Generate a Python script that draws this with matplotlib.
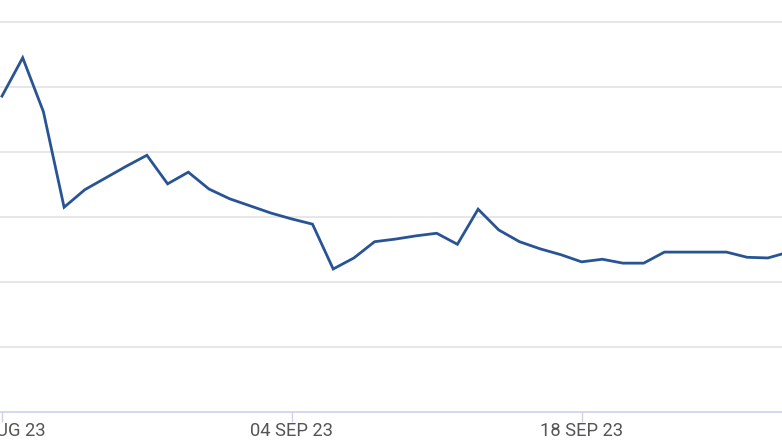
import matplotlib
matplotlib.use("Agg")
import matplotlib.pyplot as plt
import matplotlib.dates as mdates
import numpy as np
import pandas as pd

# daily values, 21 Aug 2023 .. 28 Sep 2023 (one grid step = 1 unit)
dates = pd.date_range("2023-08-21", "2023-09-28", freq="D")
values = [4.86, 5.45, 4.62, 3.15, 3.42, 3.60, 3.78, 3.95, 3.51, 3.69,
          3.43, 3.28, 3.17, 3.06, 2.97, 2.89, 2.20, 2.37, 2.62, 2.66,
          2.71, 2.75, 2.58, 3.12, 2.80, 2.62, 2.51, 2.42, 2.31, 2.35,
          2.29, 2.29, 2.46, 2.46, 2.46, 2.46, 2.38, 2.37, 2.46]
tick_dates = pd.to_datetime(["2023-08-21", "2023-09-04", "2023-09-18"])
tick_labels = ["21 AUG 23", "04 SEP 23", "18 SEP 23"]
grid_levels = [1, 2, 3, 4, 5, 6]

W, H = 782, 440
fig = plt.figure(figsize=(W / 100, H / 100), dpi=100)
ax = fig.add_axes([0, 28 / H, 1, 1 - 28 / H])

ax.plot(dates, values, color="#285496", lw=2.0, solid_joinstyle="miter")

# the chart is a crop of a wider one: x pixels -> days
px_per_day = 20.7
left = mdates.date2num(pd.Timestamp("2023-08-21")) - 2 / px_per_day
ax.set_xlim(left, left + W / px_per_day)
ax.set_ylim(0, 412 / 65)

for g in grid_levels:
    ax.axhline(g, color="#e3e3e3", lw=1.2, zorder=0)

for s in ["top", "right", "left"]:
    ax.spines[s].set_visible(False)
ax.spines["bottom"].set_color("#cfd0ea")
ax.spines["bottom"].set_linewidth(1.2)

ax.set_yticks([])
ax.set_xticks(mdates.date2num(tick_dates))
ax.set_xticklabels(tick_labels, fontfamily="Roboto", fontsize=13.2, color="#555555")
ax.tick_params(axis="x", length=7, width=1, color="#cfd0ea", pad=0.5)

fig.savefig("out.png", dpi=100)
